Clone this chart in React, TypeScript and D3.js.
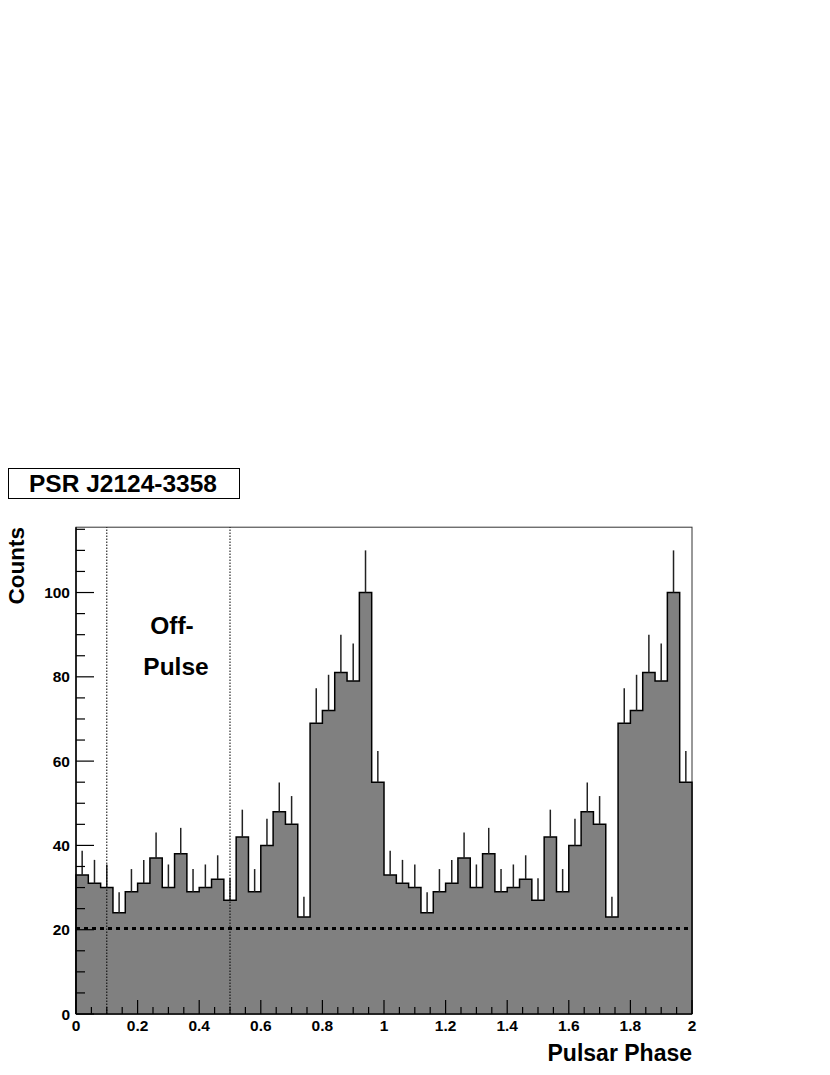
import React from "react";
import * as d3 from "d3";

// ---- data ----
const title = "PSR J2124-3358";
const xTitle = "Pulsar Phase";
const yTitle = "Counts";
const offPulseLabel = ["Off-", "Pulse"];
const phaseMin = 0;
const phaseMax = 2;
const binCounts = [
  33, 31, 30, 24, 29, 31, 37, 30, 38, 29, 30, 32, 27, 42, 29, 40, 48, 45, 23, 69, 72, 81, 79, 100, 55,
  33, 31, 30, 24, 29, 31, 37, 30, 38, 29, 30, 32, 27, 42, 29, 40, 48, 45, 23, 69, 72, 81, 79, 100, 55,
];
const offPulseEdges = [0.1, 0.5];
const backgroundLevel = 20.3;
const yMax = 115.5;
const xMajorTicks = [0, 0.2, 0.4, 0.6, 0.8, 1, 1.2, 1.4, 1.6, 1.8, 2];
const yMajorTicks = [0, 20, 40, 60, 80, 100];

const FONT = "'Liberation Sans', Arial, Helvetica, sans-serif";

export default function App() {
  const left = 76, right = 692, top = 527.2, bottom = 1014;
  const x = d3.scaleLinear().domain([phaseMin, phaseMax]).range([left, right]);
  const y = d3.scaleLinear().domain([0, yMax]).range([bottom, top]);

  const nb = binCounts.length;
  const bw = (phaseMax - phaseMin) / nb;
  const pts: [number, number][] = [[phaseMin, 0]];
  binCounts.forEach((v, i) => pts.push([phaseMin + i * bw, v]));
  pts.push([phaseMax, binCounts[nb - 1]]);
  pts.push([phaseMax, 0]);

  const line = d3
    .line<[number, number]>()
    .x((d) => x(d[0]))
    .y((d) => y(d[1]))
    .curve(d3.curveStepAfter);
  const pathD = line(pts) || "";

  const xMinor = d3.range(0, 41).map((i) => phaseMin + i * 0.05);
  const yMinor = d3.range(0, 24).map((i) => i * 5);

  return (
    <svg
      width={830}
      height={1075}
      style={{ position: "absolute", left: 0, top: 0, background: "#fff" }}
      fontFamily={FONT}
    >
      {/* title box */}
      <rect x={8.5} y={468.5} width={231} height={30} fill="#fff" stroke="#000" strokeWidth={1} />
      <text x={123} y={492} textAnchor="middle" fontSize={24.5} fontWeight="bold">
        {title}
      </text>

      {/* frame */}
      <rect x={left} y={top} width={right - left} height={bottom - top} fill="none" stroke="#333" strokeWidth={1} />

      {/* histogram */}
      <path d={pathD + "Z"} fill="#808080" stroke="none" />
      <path d={pathD} fill="none" stroke="#000" strokeWidth={1.5} />

      {/* error bars (upper half visible) */}
      {binCounts.map((v, i) => {
        const cx = x(phaseMin + (i + 0.5) * bw);
        return (
          <line
            key={i}
            x1={cx}
            x2={cx}
            y1={y(v)}
            y2={y(v + Math.sqrt(v))}
            stroke="#222"
            strokeWidth={1.5}
          />
        );
      })}

      {/* background level */}
      <line
        x1={x(phaseMin)}
        x2={x(phaseMax)}
        y1={y(backgroundLevel)}
        y2={y(backgroundLevel)}
        stroke="#000"
        strokeWidth={3}
        strokeDasharray="4 4"
      />

      {/* off-pulse boundaries */}
      {offPulseEdges.map((p) => (
        <line
          key={p}
          x1={x(p)}
          x2={x(p)}
          y1={bottom}
          y2={top}
          stroke="#000"
          strokeWidth={1}
          strokeDasharray="1.5 1.5"
        />
      ))}

      {/* off-pulse label */}
      <text x={172} y={634} textAnchor="middle" fontSize={24.5} fontWeight="bold">
        {offPulseLabel[0]}
      </text>
      <text x={176} y={675} textAnchor="middle" fontSize={24.5} fontWeight="bold">
        {offPulseLabel[1]}
      </text>

      {/* axes */}
      <line x1={left} x2={right} y1={bottom} y2={bottom} stroke="#000" strokeWidth={1.5} />
      <line x1={left} x2={left} y1={bottom} y2={top} stroke="#000" strokeWidth={1.5} />

      {/* x ticks */}
      {xMinor.map((t, i) => {
        const major = i % 4 === 0;
        return (
          <line
            key={"xt" + i}
            x1={x(t)}
            x2={x(t)}
            y1={bottom}
            y2={bottom - (major ? 14 : 7)}
            stroke="#000"
            strokeWidth={1.2}
          />
        );
      })}
      {xMajorTicks.map((t) => (
        <text key={"xl" + t} x={x(t)} y={1031} textAnchor="middle" fontSize={15.5} fontWeight="bold">
          {d3.format("~g")(t)}
        </text>
      ))}

      {/* y ticks */}
      {yMinor.map((t, i) => {
        const major = i % 4 === 0;
        return (
          <line
            key={"yt" + i}
            x1={left}
            x2={left + (major ? 18 : 9)}
            y1={y(t)}
            y2={y(t)}
            stroke="#000"
            strokeWidth={1.2}
          />
        );
      })}
      {yMajorTicks.map((t) => (
        <text
          key={"yl" + t}
          x={70}
          y={y(t)}
          dy="0.36em"
          textAnchor="end"
          fontSize={15.5}
          fontWeight="bold"
        >
          {t}
        </text>
      ))}

      {/* axis titles */}
      <text x={right} y={1061} textAnchor="end" fontSize={23} fontWeight="bold">
        {xTitle}
      </text>
      <text
        transform={`translate(24, 527) rotate(-90)`}
        textAnchor="end"
        fontSize={22.5}
        fontWeight="bold"
      >
        {yTitle}
      </text>
    </svg>
  );
}
